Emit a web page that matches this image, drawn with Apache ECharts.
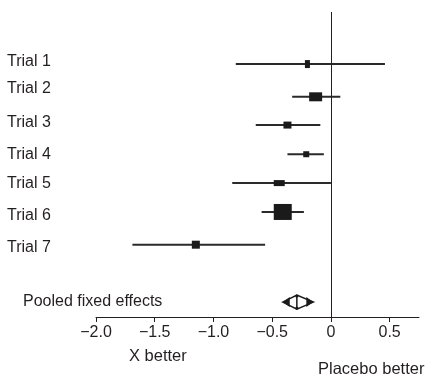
<!DOCTYPE html>
<html>
<head>
<meta charset="utf-8">
<script src="https://cdn.jsdelivr.net/npm/echarts@6/dist/echarts.min.js"></script>
<style>
html,body{margin:0;padding:0;background:#fff;}
#chart{width:433px;height:382px;}
</style>
</head>
<body>
<div id="chart"></div>
<script>
// ---- data ----
const trialNames = ['Trial 1','Trial 2','Trial 3','Trial 4','Trial 5','Trial 6','Trial 7'];
const trialRows  = [1, 2.1, 3.05, 4.03, 5, 5.97, 7.07];
const estimates  = [-0.20, -0.13, -0.37, -0.21, -0.44, -0.41, -1.15];
const lowerCI    = [-0.81, -0.33, -0.64, -0.37, -0.84, -0.59, -1.69];
const upperCI    = [0.46, 0.08, -0.09, -0.06, 0.00, -0.23, -0.56];
const pooledName = 'Pooled fixed effects';
const pooledRow  = 9;
const pooledEst  = -0.29;
const pooledLo   = -0.41;
const pooledHi   = -0.15;
const xTicks     = [-2.0, -1.5, -1.0, -0.5, 0, 0.5];

// ---- styles ----
const markerSizes = [[5,8],[13,9],[8,7],[6,6],[11,6],[18,16],[8,8]];
const labelShiftPx = [-2, -8, -2, 0, 0, 4, 3]; // vertical nudge of trial labels
const pooledShiftPx = -1;
const ink = '#231f20';
const font = 'Liberation Sans, Arial, Helvetica, sans-serif';

const chart = echarts.init(document.getElementById('chart'));

const trialData = trialNames.map((n, i) => [estimates[i], lowerCI[i], upperCI[i], trialRows[i]]);

function padFor(shift, left) {
  return shift < 0 ? [0, 0, -2 * shift, left] : [2 * shift, 0, 0, left];
}
const rich = {};
trialNames.forEach((n, i) => {
  rich['t' + i] = { padding: padFor(labelShiftPx[i], 0), color: ink, fontSize: 16, fontFamily: font };
});
rich.p = { padding: padFor(pooledShiftPx, 16), color: ink, fontSize: 16, fontFamily: font };

const option = {
  animation: false,
  backgroundColor: '#fff',
  grid: { left: 96, right: 14, top: 12, bottom: 65, containLabel: false },
  xAxis: {
    type: 'value', min: -2, max: 0.75, interval: 0.5, position: 'bottom',
    axisLine: { show: true, onZero: false, lineStyle: { color: ink, width: 1 } },
    axisTick: { show: true, length: 5, inside: false, customValues: xTicks, lineStyle: { color: ink } },
    axisLabel: {
      customValues: xTicks, margin: 8, color: ink, fontSize: 16, fontFamily: font,
      formatter: v => v === 0 ? '0' : (v < 0 ? '\u2212' : '') + Math.abs(v).toFixed(1)
    },
    splitLine: { show: false }
  },
  yAxis: {
    type: 'value', inverse: true, min: -0.75, max: 9.5,
    axisLine: { show: false }, axisTick: { show: false }, splitLine: { show: false },
    axisLabel: {
      customValues: trialRows.concat([pooledRow]),
      align: 'left', margin: 89, color: ink, fontSize: 16, fontFamily: font,
      formatter: v => {
        if (v === pooledRow) return '{p|' + pooledName + '}';
        const i = trialRows.indexOf(v);
        return '{t' + i + '|' + trialNames[i] + '}';
      },
      rich: rich
    }
  },
  graphic: [
    { type: 'text', left: 129, top: 348, style: { text: 'X better', fill: ink, font: '16.5px ' + font } },
    { type: 'text', left: 318, top: 361, style: { text: 'Placebo better', fill: ink, font: '16.5px ' + font } }
  ],
  series: [
    {
      type: 'custom',
      data: trialData,
      encode: { x: [0, 1, 2], y: 3 },
      renderItem: (params, api) => {
        const row = api.value(3);
        const pl = api.coord([api.value(1), row]);
        const ph = api.coord([api.value(2), row]);
        const pe = api.coord([api.value(0), row]);
        const sz = markerSizes[params.dataIndex];
        return {
          type: 'group',
          children: [
            { type: 'line', shape: { x1: pl[0], y1: pl[1], x2: ph[0], y2: ph[1] },
              style: { stroke: '#2a2a2a', lineWidth: 2 } },
            { type: 'rect', shape: { x: pe[0] - sz[0] / 2, y: pe[1] - sz[1] / 2, width: sz[0], height: sz[1] },
              style: { fill: '#1a1a1a' } }
          ]
        };
      },
      markLine: {
        silent: true, symbol: 'none', label: { show: false },
        lineStyle: { color: ink, width: 1, type: 'solid' },
        data: [{ xAxis: 0 }]
      },
      z: 3
    },
    {
      type: 'custom',
      data: [[pooledEst, pooledLo, pooledHi, pooledRow]],
      encode: { x: [0, 1, 2], y: 3 },
      renderItem: (params, api) => {
        const row = api.value(3);
        const pl = api.coord([api.value(1), row]);
        const ph = api.coord([api.value(2), row]);
        const pe = api.coord([api.value(0), row]);
        const h = 7;
        const aw = 7, ah = 5;
        return {
          type: 'group',
          children: [
            { type: 'polygon', shape: { points: [[pl[0], pl[1]], [pe[0], pe[1] - h], [ph[0], ph[1]], [pe[0], pe[1] + h]] },
              style: { fill: '#fff', stroke: '#1a1a1a', lineWidth: 1.5 } },
            { type: 'polygon', shape: { points: [[pl[0], pl[1]], [pl[0] + aw, pl[1] - ah], [pl[0] + aw, pl[1] + ah]] },
              style: { fill: '#1a1a1a' } },
            { type: 'polygon', shape: { points: [[ph[0], ph[1]], [ph[0] - aw, ph[1] - ah], [ph[0] - aw, ph[1] + ah]] },
              style: { fill: '#1a1a1a' } },
            { type: 'line', shape: { x1: pe[0], y1: pe[1] - h, x2: pe[0], y2: pe[1] + h },
              style: { stroke: '#1a1a1a', lineWidth: 1.5 } },
            { type: 'circle', shape: { cx: pe[0], cy: pe[1] - h + 1, r: 1.6 }, style: { fill: '#1a1a1a' } },
            { type: 'circle', shape: { cx: pe[0], cy: pe[1] + h - 1, r: 1.6 }, style: { fill: '#1a1a1a' } }
          ]
        };
      },
      z: 3
    }
  ]
};
chart.setOption(option);
</script>
</body>
</html>
